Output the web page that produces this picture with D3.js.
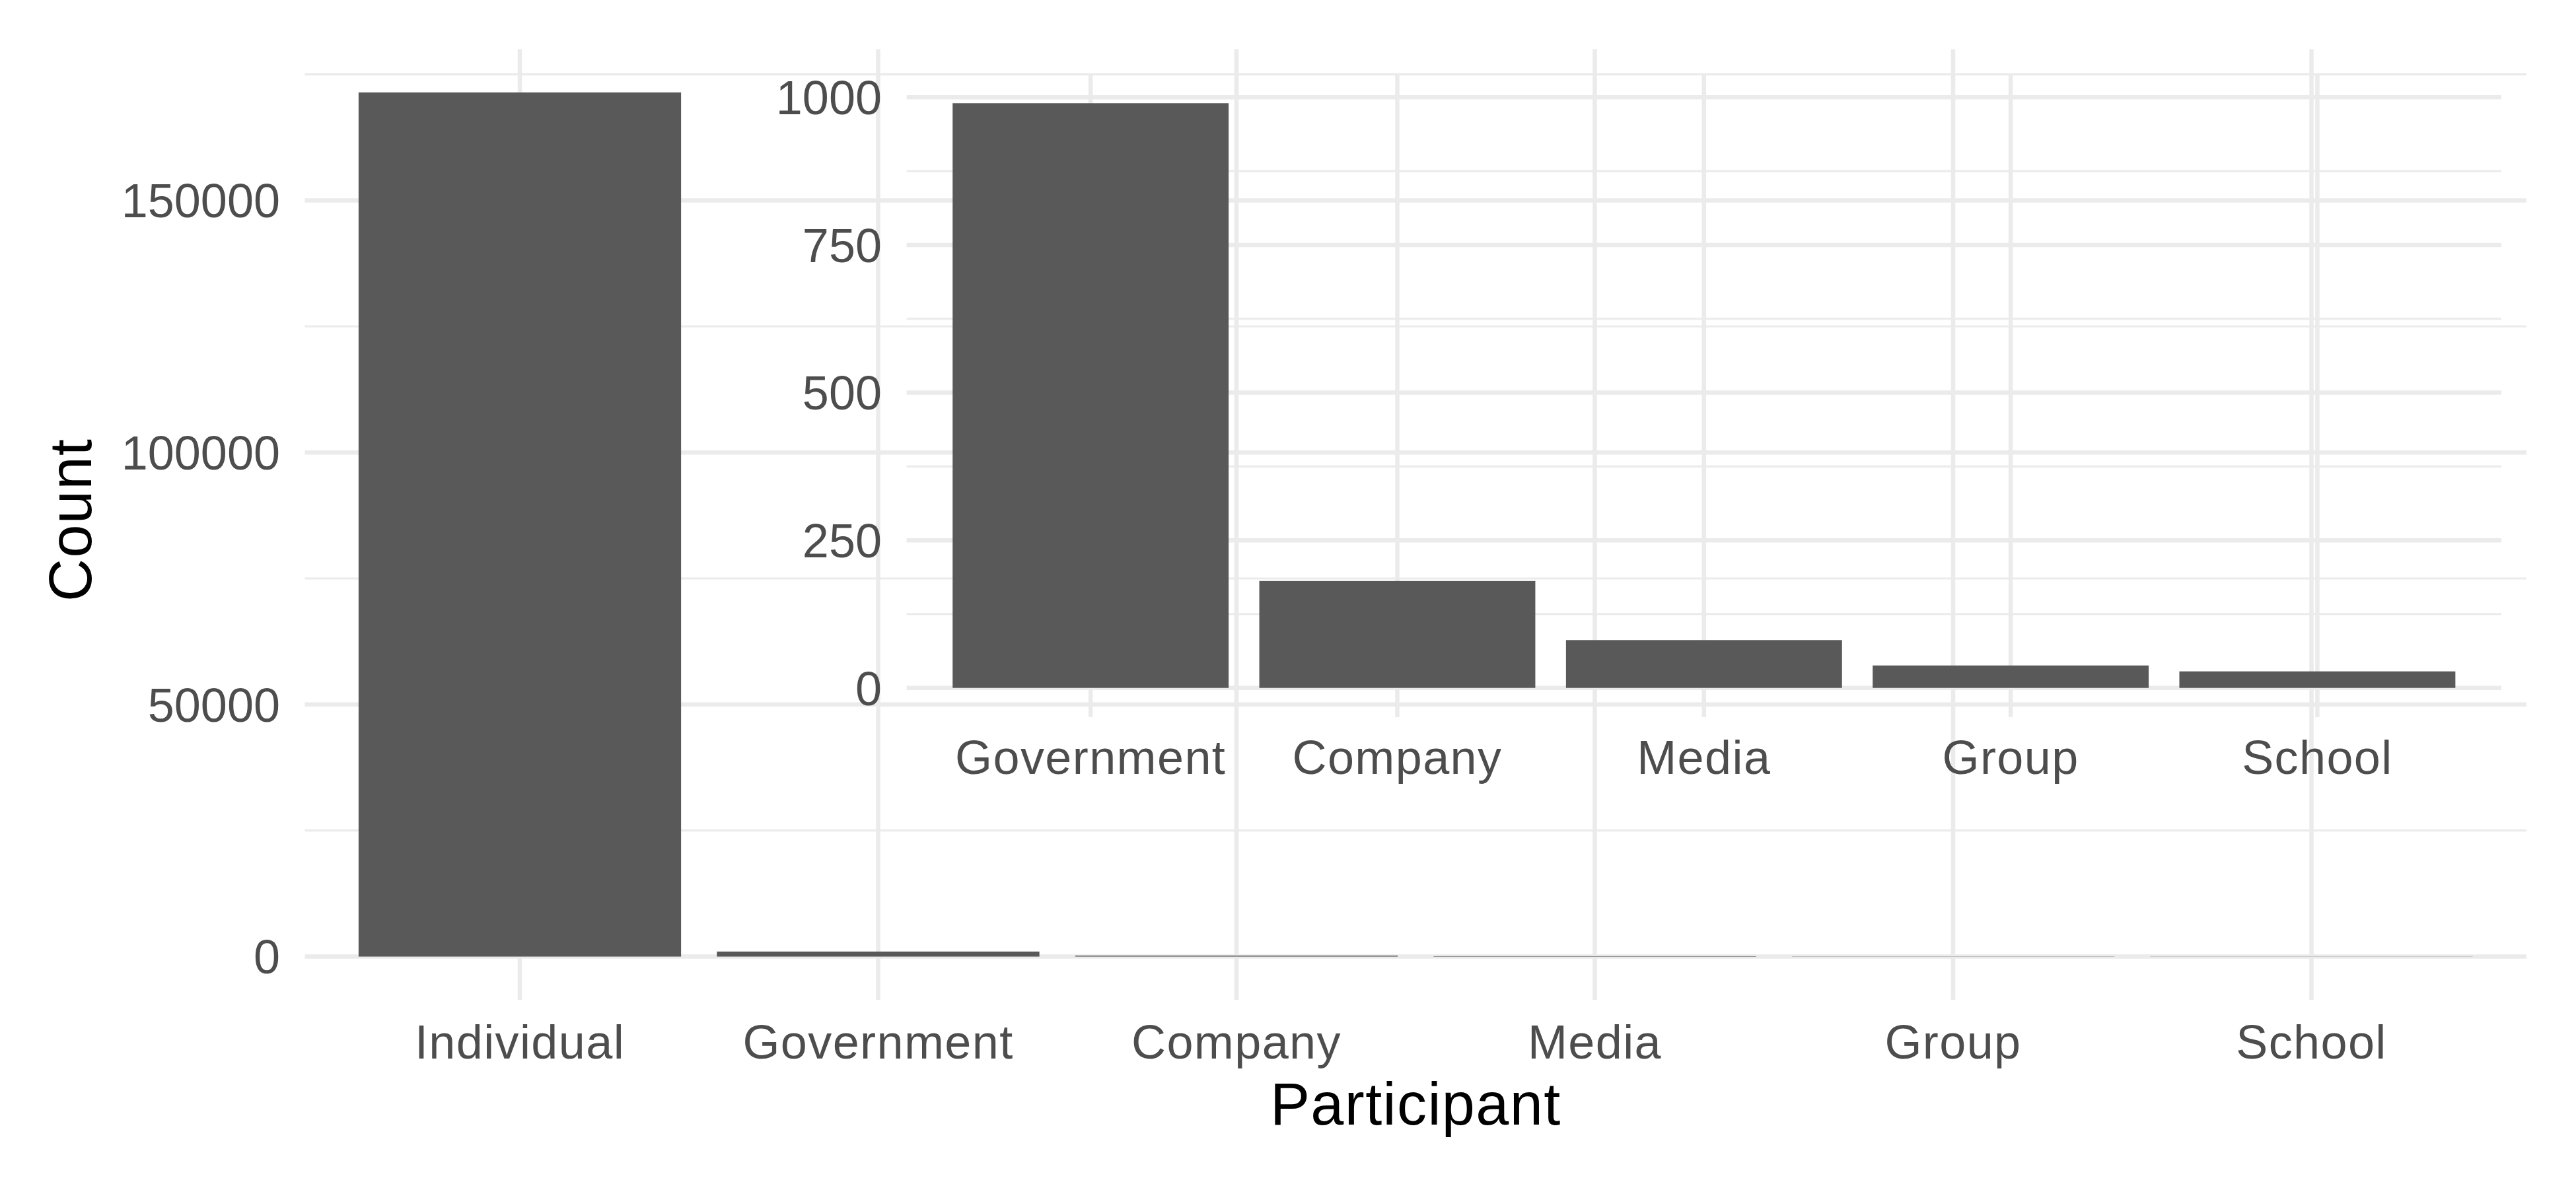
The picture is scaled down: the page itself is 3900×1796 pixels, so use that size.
<!DOCTYPE html>
<html>
<head>
<meta charset="utf-8">
<script src="https://cdn.jsdelivr.net/npm/d3@7"></script>
<style>
  html, body { margin: 0; padding: 0; background: #ffffff; }
  svg { display: block; }
  text { font-family: "Liberation Sans", Arial, Helvetica, sans-serif; }
</style>
</head>
<body>
<svg id="chart" width="3900" height="1796"></svg>
<script>
// ---- data ----
const categories = ["Individual", "Government", "Company", "Media", "Group", "School"];
const counts = [171400, 990, 181, 81, 38, 28];

// zoomed view: everything except the dominant "Individual" group
const insetCategories = ["Government", "Company", "Media", "Group", "School"];
const insetCounts = [990, 181, 81, 38, 28];

const mainMajorTicks = [0, 50000, 100000, 150000];
const mainMinorTicks = [25000, 75000, 125000, 175000];
const insetMajorTicks = [0, 250, 500, 750, 1000];
const insetMinorTicks = [125, 375, 625, 875];

const xTitle = "Participant";
const yTitle = "Count";

// ---- layout ----
const W = 3900, H = 1796;
const mainPanel = { left: 461.5, right: 3825, top: 74.6, bottom: 1514 };
const insetPanel = { left: 1372.6, right: 3787, top: 112, bottom: 1086 };

const gridColor = "#EBEBEB";
const barColor = "#595959";
const tickColor = "#4D4D4D";
const majorW = 6.5, minorW = 3.2;
const tickFont = 72, titleFont = 90;
const wordSpacing = "1.4px";

const svg = d3.select("#chart");
svg.append("rect").attr("width", W).attr("height", H).attr("fill", "#ffffff");

// discrete x: 0.6 step expansion on both sides, bars 90% of a step
function bandScale(domain, panel) {
  return d3.scaleBand().domain(domain)
    .range([panel.left, panel.right])
    .paddingInner(0.1).paddingOuter(0.15).align(0.5);
}
// continuous y: 5% expansion of the data range
function yScale(values, panel) {
  const lo = Math.min(0, d3.min(values)), hi = d3.max(values);
  const pad = (hi - lo) * 0.05;
  return d3.scaleLinear().domain([lo - pad, hi + pad]).range([panel.bottom, panel.top]);
}

function drawPanel(g, cats, vals, panel, major, minor) {
  const x = bandScale(cats, panel);
  const y = yScale(vals, panel);
  const cx = d => x(d) + x.bandwidth() / 2;

  const grid = g.append("g");
  grid.selectAll("line.minor").data(minor).join("line")
    .attr("x1", panel.left).attr("x2", panel.right)
    .attr("y1", d => y(d)).attr("y2", d => y(d))
    .attr("stroke", gridColor).attr("stroke-width", minorW);
  grid.selectAll("line.majory").data(major).join("line")
    .attr("x1", panel.left).attr("x2", panel.right)
    .attr("y1", d => y(d)).attr("y2", d => y(d))
    .attr("stroke", gridColor).attr("stroke-width", majorW);
  grid.selectAll("line.majorx").data(cats).join("line")
    .attr("x1", d => cx(d)).attr("x2", d => cx(d))
    .attr("y1", panel.top).attr("y2", panel.bottom)
    .attr("stroke", gridColor).attr("stroke-width", majorW);

  return { x, y, cx };
}

function drawBars(g, cats, vals, s) {
  g.append("g").selectAll("rect").data(cats).join("rect")
    .attr("x", d => s.x(d))
    .attr("width", s.x.bandwidth())
    .attr("y", (d, i) => s.y(vals[i]))
    .attr("height", (d, i) => s.y(0) - s.y(vals[i]))
    .attr("fill", barColor);
}

function drawAxisText(g, cats, major, s, panel, yLabelRight, xLabelOffset) {
  g.append("g").selectAll("text").data(major).join("text")
    .attr("x", yLabelRight).attr("y", d => s.y(d)).attr("dy", "0.36em")
    .attr("text-anchor", "end").attr("font-size", tickFont).attr("fill", tickColor)
    .text(d => d3.format("d")(d));
  g.append("g").selectAll("text").data(cats).join("text")
    .attr("x", d => s.cx(d)).attr("y", panel.bottom + xLabelOffset)
    .attr("text-anchor", "middle").attr("font-size", tickFont).attr("fill", tickColor)
    .attr("letter-spacing", wordSpacing)
    .text(d => d);
}

// main chart grid
const gMain = svg.append("g");
const sMain = drawPanel(gMain, categories, counts, mainPanel, mainMajorTicks, mainMinorTicks);
drawBars(gMain, categories, counts, sMain);

// inset grid (transparent background) and bars
const gInset = svg.append("g");
const sInset = drawPanel(gInset, insetCategories, insetCounts, insetPanel, insetMajorTicks, insetMinorTicks);
drawBars(gInset, insetCategories, insetCounts, sInset);

// tick labels
drawAxisText(svg, categories, mainMajorTicks, sMain, mainPanel, 424, 89);
drawAxisText(svg, insetCategories, insetMajorTicks, sInset, insetPanel, 1335, 86);

// axis titles
svg.append("text")
  .attr("x", (mainPanel.left + mainPanel.right) / 2).attr("y", 1703)
  .attr("text-anchor", "middle").attr("font-size", titleFont).attr("fill", "#000000")
  .attr("letter-spacing", wordSpacing)
  .text(xTitle);
svg.append("text")
  .attr("transform", `translate(138,${(mainPanel.top + mainPanel.bottom) / 2 - 7}) rotate(-90)`)
  .attr("text-anchor", "middle").attr("font-size", titleFont).attr("fill", "#000000")
  .attr("letter-spacing", wordSpacing)
  .text(yTitle);
</script>
</body>
</html>
